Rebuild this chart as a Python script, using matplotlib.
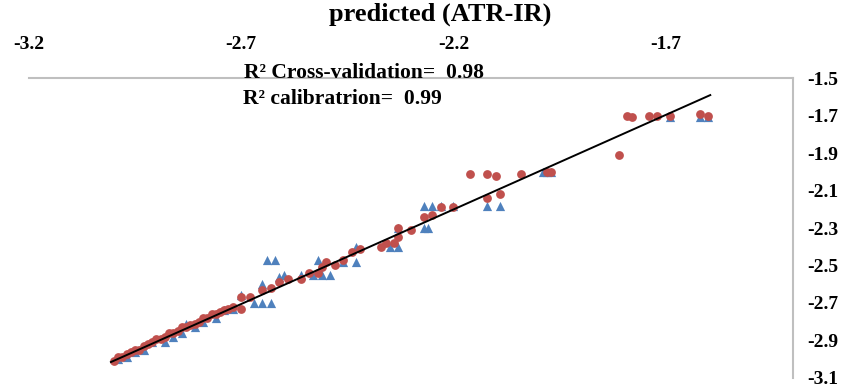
import matplotlib
matplotlib.use("Agg")
from matplotlib import pyplot as plt

cal_pred = [-3.00, -2.99, -2.98, -2.97, -2.96, -2.95, -2.94, -2.93, -2.92, -2.91,
            -2.90, -2.89, -2.88, -2.87, -2.86, -2.85, -2.84, -2.83, -2.82, -2.81,
            -2.80, -2.79, -2.78, -2.77, -2.76, -2.75, -2.74, -2.73, -2.72, -2.70,
            -2.70, -2.68, -2.65, -2.63, -2.61, -2.59, -2.56, -2.54, -2.52, -2.51,
            -2.50, -2.48, -2.46, -2.44, -2.42, -2.37, -2.36, -2.34, -2.33, -2.33,
            -2.30, -2.27, -2.25, -2.23, -2.20, -2.16, -2.12, -2.10, -2.12, -2.09,
            -2.04, -1.98, -1.97, -1.81, -1.79, -1.78, -1.74, -1.72, -1.69, -1.62,
            -1.60]
cal_meas = [-3.01, -2.99, -2.99, -2.97, -2.96, -2.95, -2.95, -2.93, -2.92, -2.91,
            -2.89, -2.89, -2.88, -2.86, -2.86, -2.85, -2.83, -2.83, -2.82, -2.81,
            -2.80, -2.78, -2.78, -2.76, -2.76, -2.75, -2.74, -2.73, -2.72, -2.73,
            -2.67, -2.67, -2.63, -2.62, -2.59, -2.57, -2.57, -2.54, -2.54, -2.51,
            -2.48, -2.50, -2.47, -2.43, -2.41, -2.40, -2.38, -2.38, -2.35, -2.30,
            -2.31, -2.24, -2.23, -2.19, -2.19, -2.01, -2.01, -2.02, -2.14, -2.12,
            -2.01, -2.00, -2.00, -1.91, -1.70, -1.71, -1.70, -1.70, -1.70, -1.69,
            -1.70]

cv_pred = [-2.99, -2.97, -2.95, -2.93, -2.91, -2.88, -2.86, -2.84, -2.83, -2.81,
           -2.79, -2.76, -2.74, -2.72, -2.70, -2.67, -2.65, -2.63, -2.65, -2.64,
           -2.62, -2.61, -2.60, -2.56, -2.53, -2.51, -2.49, -2.52, -2.46, -2.43,
           -2.43, -2.35, -2.33, -2.33, -2.27, -2.26, -2.27, -2.25, -2.23, -2.20,
           -2.12, -2.09, -1.99, -1.98, -1.97, -1.69, -1.62, -1.60]
cv_meas = [-3.00, -2.99, -2.96, -2.95, -2.91, -2.91, -2.88, -2.86, -2.81, -2.83,
           -2.80, -2.78, -2.74, -2.73, -2.66, -2.70, -2.70, -2.70, -2.60, -2.47,
           -2.47, -2.56, -2.55, -2.55, -2.55, -2.55, -2.55, -2.47, -2.48, -2.48,
           -2.40, -2.40, -2.40, -2.30, -2.30, -2.30, -2.18, -2.18, -2.18, -2.18,
           -2.18, -2.18, -2.00, -2.00, -2.00, -1.71, -1.71, -1.71]

fit_x = [-3.007, -1.595]
fit_y = [-3.015, -1.591]

x_ticks = [-3.2, -2.7, -2.2, -1.7]
y_ticks = [-1.5, -1.7, -1.9, -2.1, -2.3, -2.5, -2.7, -2.9, -3.1]

fig = plt.figure(figsize=(8.53, 3.87), dpi=100)
ax = fig.add_axes([0.034, 0.0233, 0.8957, 0.7751])

ax.scatter(cv_pred, cv_meas, marker="^", s=44, color="#4F81BD", zorder=2, linewidths=0)
ax.scatter(cal_pred, cal_meas, marker="o", s=40, color="#C0504D", zorder=3, linewidths=0)
ax.plot(fit_x, fit_y, color="black", lw=1.4, zorder=4)

ax.set_xlim(-3.2, -1.4)
ax.set_ylim(-3.1, -1.5)
ax.set_xticks(x_ticks)
ax.set_yticks(y_ticks)
ax.set_xticklabels([f"{v:g}" for v in x_ticks])
ax.set_yticklabels([f"{v:g}" for v in y_ticks])

ax.xaxis.tick_top()
ax.yaxis.tick_right()
ax.tick_params(length=0, labelsize=14)
ax.tick_params(axis="x", pad=18)
ax.tick_params(axis="y", pad=10)
for lab in ax.get_xticklabels() + ax.get_yticklabels():
    lab.set_fontfamily("Liberation Serif")
    lab.set_fontweight("bold")

for side in ["left", "bottom"]:
    ax.spines[side].set_visible(False)
for side in ["top", "right"]:
    ax.spines[side].set_color("#BFBFBF")
    ax.spines[side].set_linewidth(1.5)

fig.text(0.516, 0.962, "predicted (ATR-IR)", ha="center", va="center",
         fontsize=19, family="Liberation Serif", fontweight="bold")

fig.text(0.427, 0.812, "R² Cross-validation=  0.98", ha="center", va="center",
         fontsize=15.5, family="Liberation Serif", fontweight="bold")
fig.text(0.401, 0.743, "R² calibratrion=  0.99", ha="center", va="center",
         fontsize=15.5, family="Liberation Serif", fontweight="bold")

fig.savefig("out.png", dpi=100)
